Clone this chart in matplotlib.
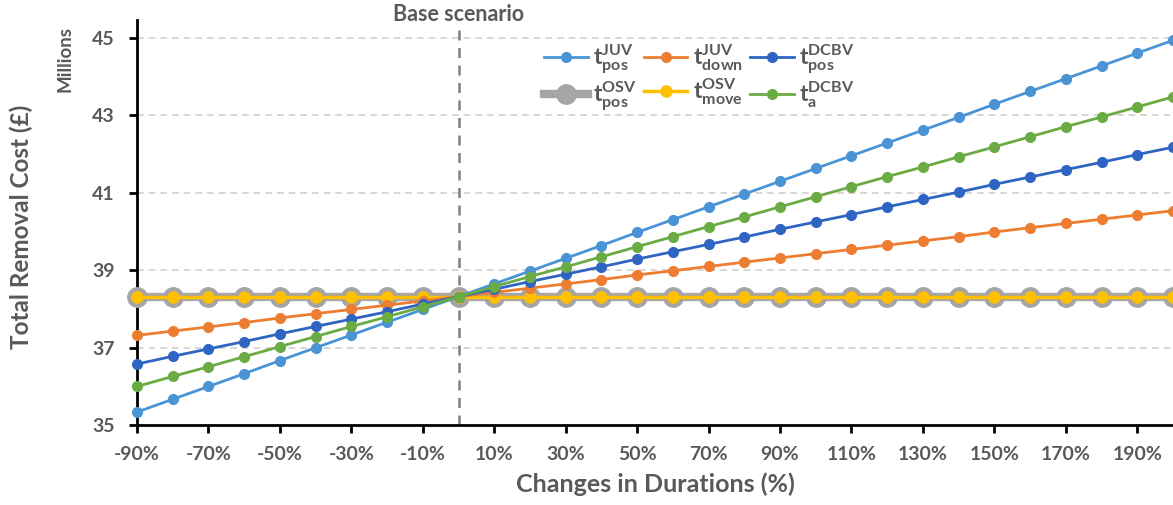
import matplotlib.pyplot as plt

plt.rcParams['font.family'] = ['Lato', 'DejaVu Sans']
plt.rcParams['mathtext.fontset'] = 'custom'
plt.rcParams['mathtext.rm'] = 'Lato:bold'
plt.rcParams['mathtext.bf'] = 'Lato:bold'
plt.rcParams['mathtext.it'] = 'Lato:bold'

# changes in durations (%)
changes = [-90, -80, -70, -60, -50, -40, -30, -20, -10, 0,
           10, 20, 30, 40, 50, 60, 70, 80, 90, 100,
           110, 120, 130, 140, 150, 160, 170, 180, 190, 200]

# total removal cost, millions of pounds
juv_pos = [35.34, 35.67, 36.00, 36.33, 36.67, 37.00, 37.33, 37.66, 37.99, 38.32,
           38.65, 38.98, 39.31, 39.64, 39.98, 40.31, 40.64, 40.97, 41.30, 41.63,
           41.96, 42.29, 42.62, 42.95, 43.29, 43.62, 43.95, 44.28, 44.61, 44.94]
juv_down = [37.32, 37.43, 37.54, 37.65, 37.77, 37.88, 37.99, 38.10, 38.21, 38.32,
            38.43, 38.54, 38.65, 38.76, 38.88, 38.99, 39.10, 39.21, 39.32, 39.43,
            39.54, 39.65, 39.76, 39.87, 39.99, 40.10, 40.21, 40.32, 40.43, 40.54]
dcbv_pos = [36.58, 36.78, 36.97, 37.16, 37.36, 37.55, 37.74, 37.93, 38.13, 38.32,
            38.51, 38.71, 38.90, 39.09, 39.29, 39.48, 39.67, 39.86, 40.06, 40.25,
            40.44, 40.64, 40.83, 41.02, 41.22, 41.41, 41.60, 41.79, 41.99, 42.18]
osv_pos = [38.32] * 30
osv_move = [38.32] * 30
dcbv_a = [36.00, 36.26, 36.51, 36.77, 37.03, 37.29, 37.55, 37.80, 38.06, 38.32,
          38.58, 38.84, 39.09, 39.35, 39.61, 39.87, 40.13, 40.38, 40.64, 40.90,
          41.16, 41.42, 41.67, 41.93, 42.19, 42.45, 42.71, 42.96, 43.22, 43.48]

xtick_vals = [-90, -70, -50, -30, -10, 10, 30, 50, 70, 90, 110, 130, 150, 170, 190]
ytick_vals = [35, 37, 39, 41, 43, 45]

txt = '#595959'

fig = plt.figure(figsize=(11.73, 5.05), dpi=100)
ax = fig.add_axes([0.1168, 0.158, 0.8832, 0.802])

l_osvp, = ax.plot(changes, osv_pos, color='#A5A5A5', lw=6, marker='o', ms=14,
                  clip_on=False, zorder=3, label=r'$\mathbf{t_{pos}^{OSV}}$')
l_osvm, = ax.plot(changes, osv_move, color='#FFC000', lw=2.5, marker='o', ms=8,
                  clip_on=False, zorder=4, label=r'$\mathbf{t_{move}^{OSV}}$')
l_jd, = ax.plot(changes, juv_down, color='#ED7D31', lw=2, marker='o', ms=7,
                clip_on=False, zorder=5, label=r'$\mathbf{t_{down}^{JUV}}$')
l_dp, = ax.plot(changes, dcbv_pos, color='#2F65C2', lw=2, marker='o', ms=7,
                clip_on=False, zorder=6, label=r'$\mathbf{t_{pos}^{DCBV}}$')
l_jp, = ax.plot(changes, juv_pos, color='#4A94D6', lw=2, marker='o', ms=7,
                clip_on=False, zorder=7, label=r'$\mathbf{t_{pos}^{JUV}}$')
l_da, = ax.plot(changes, dcbv_a, color='#6AAB44', lw=2, marker='o', ms=7,
                clip_on=False, zorder=8, label=r'$\mathbf{t_{a}^{DCBV}}$')

ax.set_xlim(-90, 200)
ax.set_ylim(35, 45.46)

ax.axvline(0, ymin=0, ymax=0.985, color='#7F7F7F', lw=1.8, ls=(0, (4, 3)), zorder=2)
ax.text(0, 45.62, 'Base scenario', ha='center', va='center', fontsize=15.5,
        fontweight='bold', color=txt, clip_on=False)

for y in ytick_vals[1:]:
    ax.axhline(y, color='#D0D0D0', lw=1.2, ls=(0, (4, 3)), zorder=1)

ax.set_xticks(xtick_vals)
ax.set_xticklabels([f'{v}%' for v in xtick_vals])
ax.set_yticks(ytick_vals)
ax.tick_params(axis='both', direction='out', length=6, width=2, colors='black',
               labelcolor=txt, labelsize=14)
ax.tick_params(axis='x', pad=9)
ax.tick_params(axis='y', pad=10)
for lab in ax.get_xticklabels() + ax.get_yticklabels():
    lab.set_fontweight('bold')

for s in ['top', 'right']:
    ax.spines[s].set_visible(False)
for s in ['left', 'bottom']:
    ax.spines[s].set_linewidth(2)
    ax.spines[s].set_color('black')

ax.set_xlabel('Changes in Durations (%)', fontsize=18, fontweight='bold',
              color=txt, labelpad=7)
fig.text(0.018, 0.55, 'Total Removal Cost (£)', rotation=90, ha='center',
         va='center', fontsize=17.5, fontweight='bold', color=txt)
fig.text(0.055, 0.883, 'Millions', rotation=90, ha='center', va='center',
         fontsize=13.5, fontweight='bold', color=txt)

handles = [l_jp, l_osvp, l_jd, l_osvm, l_dp, l_da]
ax.legend(handles=handles, loc='upper left', bbox_to_anchor=(0.393, 0.945),
          ncol=3, frameon=False, fontsize=16.5, handlelength=1.9,
          columnspacing=0.3, handletextpad=0.25, labelspacing=0.15,
          borderaxespad=0, borderpad=0, labelcolor=txt)

fig.savefig('out.png', dpi=100)
